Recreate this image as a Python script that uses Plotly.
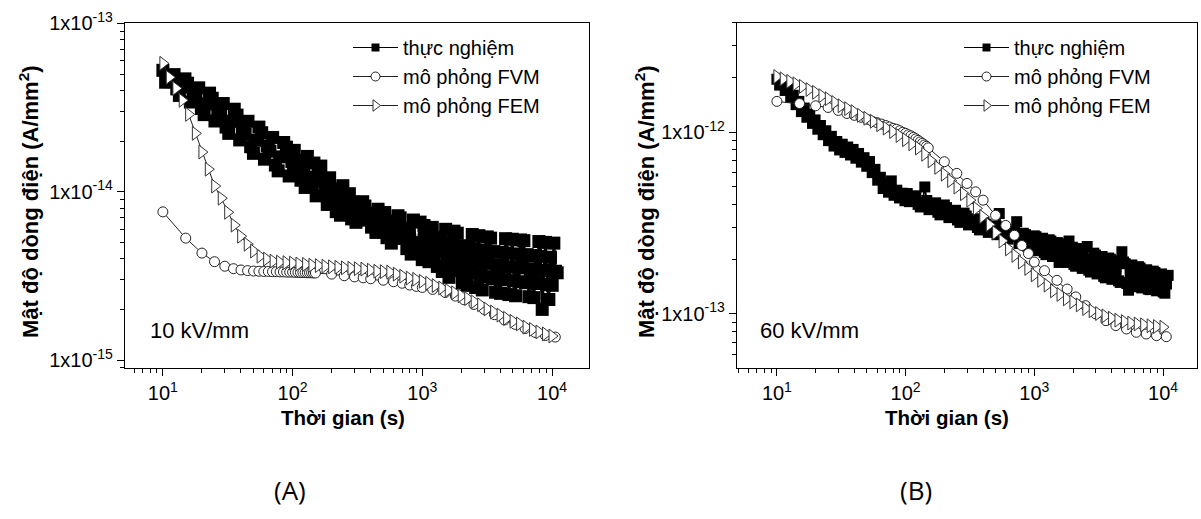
import plotly.graph_objects as go

# ---------------- data ----------------
# measurement times (s), shared by both experiments
time_exp = [10, 10.5, 11, 11.6, 12.2, 12.8, 13.4, 14.1, 14.8, 15.5, 16.3, 17.1, 18, 18.9, 19.8, 20.8, 21.8, 22.9, 24, 25.2,
            26.5, 27.8, 29.2, 30.7, 32.2, 33.8, 35.5, 37.3, 39.1, 41.1, 43.1, 45.3, 47.5, 49.9, 52.4, 55, 57.8, 60.7, 63.7, 66.9,
            70.2, 73.7, 77.4, 81.3, 85.4, 89.6, 94.1, 98.8,
            103, 107, 111, 116, 120, 125, 130, 135, 141, 146, 152, 158, 165, 171, 178, 185, 193, 200, 208, 217,
            225, 234, 244, 253, 264, 274, 285, 296, 308, 321, 333, 347, 361, 375, 390, 406, 422, 439, 456, 474,
            493, 513, 534, 555, 577, 600, 624, 649, 675, 702, 730, 760, 790, 821, 854, 888, 924, 961, 999,
            1030, 1061, 1093, 1126, 1159, 1194, 1230, 1267, 1305, 1344, 1384, 1426, 1469, 1513, 1558, 1605, 1653, 1702, 1754, 1806,
            1860, 1916, 1974, 2033, 2094, 2157, 2221, 2288, 2357, 2427, 2500, 2575, 2652, 2732, 2814, 2898, 2985, 3075, 3167, 3262,
            3360, 3461, 3564, 3671, 3781, 3895, 4012, 4132, 4256, 4384, 4515, 4651, 4790, 4934, 5082, 5234, 5391, 5553, 5720, 5891,
            6068, 6250, 6438, 6631, 6830, 7035, 7246, 7463, 7687, 7918, 8155, 8400, 8652, 8911, 9179, 9454, 9738, 10030, 10330, 10640,
            10960]

# (A) 10 kV/mm, experiment, in units of 1e-15 A/mm2
exp_A_e15 = [52.6, 44.7, 48.5, 45.0, 49.6, 40.8, 37.3, 41.8, 46.8, 44.1, 34.1, 38.8, 35.9, 41.4, 31.2, 28.7, 33.2, 38.5,
             35.9, 26.3, 30.7, 28.4, 33.4, 24.2, 22.2, 26.2, 30.9, 28.5, 20.3, 24.1, 22.0, 26.2, 18.5, 16.9, 20.2, 24.2,
             22.4, 15.6, 18.7, 17.4, 21.0, 14.4, 13.3, 16.1, 19.6, 18.4, 12.4, 15.1,
             17.6, 13.4, 15.4, 11.7, 14.1, 10.6, 16.2, 12.2, 11.0, 14.8, 9.45, 12.7, 14.2, 11.5, 9.84, 8.4,
             12.1, 8.9, 10.4, 7.61, 9.49, 7.25, 10.86, 8.3, 7.74, 9.73, 6.9, 8.68, 6.58, 7.94, 7.23, 8.72,
             8.22, 6.78, 7.47, 6.16, 7.08, 5.73, 7.87, 6.37, 5.98, 7.53, 5.33, 6.71, 4.95, 6.35, 5.61, 7.2,
             6.99, 5.28, 6.07, 4.59, 5.81, 4.26, 6.79, 4.98, 4.69, 6.6, 3.95,
             6.3, 4.35, 5.57, 3.84, 4.92, 6.14, 4.11, 5.37, 3.6, 4.70, 5.18, 3.36, 4.48, 5.98, 3.88,
             3.1, 4.98, 3.63, 5.83, 4.25, 5.67, 3.40, 4.78, 2.87, 4.03, 3.93, 2.78, 4.68, 3.31, 5.57,
             4.59, 2.7, 3.85, 5.48, 3.22, 2.61, 4.50, 3.13, 5.39, 3.75, 5.3, 3.04, 4.41, 2.53, 3.66,
             3.62, 2.49, 4.36, 3.0, 5.26, 4.32, 2.45, 3.58, 5.22, 2.96, 2.41, 4.27, 2.92, 5.17, 3.53,
             5.12, 2.88, 4.23, 2.38, 3.49, 3.45, 2.35, 4.18, 2.85, 5.06, 4.13, 2.0, 3.41, 5.0, 2.81,
             2.29, 4.08, 2.78, 4.95, 3.37, 3.3]

# (B) 60 kV/mm, experiment, in units of 1e-13 A/mm2
exp_B_e13 = [19.6, 18.2, 18.8, 17.0, 17.4, 15.6, 16.0, 14.2, 14.8, 13.0, 13.6, 12.1, 12.6, 11.2, 11.7, 10.4, 10.9, 9.7, 10.2, 9.0,
             9.5, 8.4, 8.9, 8.0, 8.6, 7.75, 8.3, 7.5, 8.05, 7.2, 7.65, 6.85, 7.25, 6.5, 6.9, 6.0, 6.25, 5.45, 5.65, 4.9,
             5.2, 4.68, 5.4, 4.5, 4.8, 4.35, 4.62, 4.2,
             4.6, 4.15, 4.37, 4.23, 4.47, 4.01, 3.88, 4.10, 5.0, 4.21, 3.75, 3.97, 3.85, 4.09, 3.63, 3.51, 3.74, 3.98,
             3.85, 3.39, 3.61, 3.50, 3.72, 3.29, 3.19, 3.38, 3.59, 3.46, 3.09, 3.27, 3.16, 3.34, 2.99, 2.90, 3.06, 3.22,
             3.12, 2.81, 2.96, 2.89, 3.05, 2.73, 3.57, 2.82, 2.98, 2.91, 2.58, 2.74, 2.67, 2.85, 3.22, 2.44, 2.60, 2.78,
             2.73, 2.36, 2.54, 2.48, 2.69,
             2.66, 2.23, 2.44, 2.39, 2.61, 2.18, 2.12, 2.33, 2.56, 2.52, 2.07, 2.28, 2.23, 2.47, 1.92, 1.97, 2.19, 2.43,
             2.38, 1.92, 2.52, 2.09, 2.33, 1.87, 1.83, 2.05, 2.29, 2.24, 1.78, 2.0, 1.96, 2.35, 1.74, 1.70, 1.92, 2.16,
             2.11, 1.66, 1.87, 1.83, 2.07, 1.61, 1.58, 1.79, 2.03, 2.0, 1.55, 1.76, 1.73, 1.96, 1.52, 1.49, 2.2, 1.93,
             1.89, 1.47, 1.35, 1.64, 1.86, 1.44, 1.41, 1.60, 1.82, 1.79, 1.39, 1.58, 1.55, 1.75, 1.37, 1.36, 1.53, 1.72,
             1.69, 1.34, 1.50, 1.48, 1.66, 1.32, 1.30, 1.46, 1.63]

# FEM simulation times (s)
time_fem = [10, 11.2, 12.6, 14.1, 15.8, 17.8, 20, 22.4, 25.1, 28.2, 31.6, 35.5, 39.8, 44.7, 50.1, 56.2, 63.1, 70.8, 79.4, 89.1,
            100, 112, 126, 141, 158, 178, 200, 224, 251, 282, 316, 355, 398, 447, 501, 562, 631, 708, 794, 891,
            1000, 1122, 1259, 1413, 1585, 1778, 1995, 2239, 2512, 2818, 3162, 3548, 3981, 4467, 5012, 5623, 6310, 7079, 7943, 8913,
            10000]
fem_A_e15 = [57.9, 47.8, 41.1, 34.9, 28.8, 22.2, 17.2, 13.6, 10.8, 9.15, 7.55, 6.33, 5.44, 4.88, 4.44, 4.14, 3.98, 3.87, 3.82, 3.79,
             3.77, 3.72, 3.70, 3.66, 3.64, 3.61, 3.58, 3.56, 3.53, 3.51, 3.49, 3.47, 3.42, 3.37, 3.35, 3.33, 3.24, 3.15, 3.07, 3.02,
             2.94, 2.86, 2.77, 2.68, 2.60, 2.51, 2.41, 2.32, 2.22, 2.13, 2.01, 1.93, 1.85, 1.77, 1.70, 1.64, 1.57, 1.52, 1.47, 1.43,
             1.39]
fem_B_e13 = [20.3, 19.7, 19.1, 18.5, 17.9, 17.2, 16.6, 15.9, 15.3, 14.6, 14.0, 13.5, 13.0, 12.4, 11.95, 11.5, 11.0, 10.55, 10.1, 9.60,
             9.10, 8.64, 8.19, 7.57, 6.96, 6.41, 5.88, 5.42, 4.99, 4.59, 4.23, 3.81, 3.44, 3.10, 2.80, 2.52, 2.28, 2.10, 1.93, 1.78,
             1.64, 1.53, 1.44, 1.34, 1.28, 1.21, 1.165, 1.12, 1.07, 1.04, 1.005, 0.975, 0.947, 0.924, 0.907, 0.89, 0.88, 0.87, 0.86, 0.852,
             0.845]

# FVM simulation times (s)
time_fvm = [10, 15, 20, 25, 30, 35, 40, 45, 50, 55, 60, 65, 70, 75, 80, 85, 90, 95, 100, 105, 110, 115, 120, 125, 130, 135, 140, 145, 150,
            200, 250, 300, 350, 400, 500, 600, 700, 800, 900, 1000, 1200, 1500, 1800, 2100, 2500, 3000, 3600, 4300, 5200, 6200, 7400, 8900, 10600]
fvm_A_e15 = [7.59, 5.30, 4.32, 3.84, 3.61, 3.49, 3.43, 3.40, 3.38, 3.37, 3.36, 3.36, 3.35, 3.35, 3.34, 3.34, 3.33, 3.33, 3.33, 3.32,
             3.32, 3.31, 3.31, 3.31, 3.30, 3.30, 3.30, 3.29, 3.29,
             3.24, 3.17, 3.12, 3.08, 3.04, 2.98, 2.92, 2.86, 2.79, 2.74, 2.70, 2.63, 2.52, 2.40, 2.28, 2.14, 2.00, 1.86, 1.73, 1.63, 1.54,
             1.46, 1.40, 1.37]
fvm_B_e13 = [14.8, 14.4, 14.0, 13.7, 13.2, 12.7, 12.4, 12.1, 11.8, 11.5, 11.3, 11.1, 10.9, 10.7, 10.5, 10.4, 10.2, 10.0, 9.87, 9.69,
             9.56, 9.38, 9.21, 9.03, 8.86, 8.69, 8.52, 8.37, 8.21,
             6.89, 5.94, 5.23, 4.70, 4.23, 3.49, 3.07, 2.71, 2.38, 2.15, 1.93, 1.73, 1.53, 1.37, 1.24, 1.11, 1.00, 0.918, 0.862, 0.826, 0.792,
             0.775, 0.759, 0.749]

series_names = ["thực nghiệm", "mô phỏng FVM", "mô phỏng FEM"]
x_tick_vals = [10, 100, 1000, 10000]
x_tick_text = ["10<sup>1</sup>", "10<sup>2</sup>", "10<sup>3</sup>", "10<sup>4</sup>"]
yA_tick_vals = [1e-15, 1e-14, 1e-13]
yA_tick_text = ["1x10<sup>-15</sup>", "1x10<sup>-14</sup>", "1x10<sup>-13</sup>"]
yB_tick_vals = [1e-13, 1e-12]
yB_tick_text = ["1x10<sup>-13</sup>", "1x10<sup>-12</sup>"]

# ---------------- figure ----------------
W, H = 1201, 519
FONT = "Arial, Liberation Sans, sans-serif"

fig = go.Figure()

exp_style = dict(symbol="square", color="black", line=dict(width=0))
fvm_style = dict(symbol="circle", size=10, color="white", line=dict(width=1, color="#222222"))
fem_style = dict(symbol="triangle-right", size=12, color="white", line=dict(width=1, color="#333333"))

panels = [
    dict(xa="x", ya="y", leg="legend", exp=exp_A_e15, fvm=fvm_A_e15, fem=fem_A_e15, unit=1e-15, sq=13, lw=2.8),
    dict(xa="x2", ya="y2", leg="legend2", exp=exp_B_e13, fvm=fvm_B_e13, fem=fem_B_e13, unit=1e-13, sq=11, lw=1.8),
]
for p in panels:
    u = p["unit"]
    fig.add_trace(go.Scatter(
        x=time_exp, y=[v * u for v in p["exp"]], mode="lines+markers", name=series_names[0],
        line=dict(color="black", width=p["lw"]), marker=dict(exp_style, size=p["sq"]),
        xaxis=p["xa"], yaxis=p["ya"], showlegend=False))
    fig.add_trace(go.Scatter(
        x=time_fvm, y=[v * u for v in p["fvm"]], mode="lines+markers", name=series_names[1],
        line=dict(color="#222222", width=1), marker=fvm_style,
        xaxis=p["xa"], yaxis=p["ya"], showlegend=False))
    fig.add_trace(go.Scatter(
        x=time_fem, y=[v * u for v in p["fem"]], mode="lines+markers", name=series_names[2],
        line=dict(color="#222222", width=1), marker=fem_style,
        xaxis=p["xa"], yaxis=p["ya"], showlegend=False))
    # legend entries (legend-only keys with smaller symbols, as in the original)
    for name, mk, lc in ((series_names[0], dict(exp_style, size=8), "black"),
                         (series_names[1], dict(fvm_style, size=9), "#222222"),
                         (series_names[2], dict(fem_style, size=10), "#222222")):
        fig.add_trace(go.Scatter(x=[None], y=[None], mode="lines+markers", name=name,
                                 line=dict(color=lc, width=1), marker=mk,
                                 xaxis=p["xa"], yaxis=p["ya"], legend=p["leg"], showlegend=True))

ydom = [1 - 368 / H, 1 - 23 / H]
axis_common = dict(
    type="log", showline=True, linecolor="black", linewidth=1.3, mirror=True,
    ticks="outside", ticklen=7, tickwidth=1.2, tickcolor="black",
    showgrid=False, zeroline=False, automargin=False,
    tickfont=dict(size=20, family=FONT, color="black"),
    minor=dict(ticks="outside", ticklen=4, tickwidth=1, tickcolor="black", showgrid=False, dtick="D1"),
)

fig.update_layout(
    width=W, height=H, autosize=False,
    margin=dict(l=0, r=0, t=0, b=0, autoexpand=False),
    paper_bgcolor="white", plot_bgcolor="white",
    font=dict(family=FONT, color="black"),
    xaxis=dict(axis_common, domain=[125 / W, 589 / W], range=[0.708, 4.285], anchor="y",
               tickmode="array", tickvals=x_tick_vals, ticktext=x_tick_text),
    yaxis=dict(axis_common, domain=ydom, range=[-15.047, -12.998], anchor="x",
               tickmode="array", tickvals=yA_tick_vals, ticktext=yA_tick_text),
    xaxis2=dict(axis_common, domain=[737 / W, 1197 / W], range=[0.69, 4.264], anchor="y2",
                tickmode="array", tickvals=x_tick_vals, ticktext=x_tick_text),
    yaxis2=dict(axis_common, domain=ydom, range=[-13.298, -11.398], anchor="x2",
                tickmode="array", tickvals=yB_tick_vals, ticktext=yB_tick_text),
    legend=dict(x=348 / W, y=1 - 28 / H, xanchor="left", yanchor="top",
                font=dict(size=20, family=FONT, color="black"), bgcolor="rgba(0,0,0,0)",
                borderwidth=0, tracegroupgap=0, itemwidth=45),
    legend2=dict(x=959 / W, y=1 - 28 / H, xanchor="left", yanchor="top",
                 font=dict(size=20, family=FONT, color="black"), bgcolor="rgba(0,0,0,0)",
                 borderwidth=0, tracegroupgap=0, itemwidth=45),
    showlegend=True,
)

ann = []
# field labels
ann.append(dict(text="10 kV/mm", x=148 / W, y=1 - 330 / H, xref="paper", yref="paper",
                xanchor="left", yanchor="middle", showarrow=False, font=dict(size=22, family=FONT)))
ann.append(dict(text="60 kV/mm", x=758 / W, y=1 - 330 / H, xref="paper", yref="paper",
                xanchor="left", yanchor="middle", showarrow=False, font=dict(size=22, family=FONT)))
# axis titles
for cx in (343, 947):
    ann.append(dict(text="<b>Thời gian (s)</b>", x=cx / W, y=1 - 417 / H, xref="paper", yref="paper",
                    xanchor="center", yanchor="middle", showarrow=False, font=dict(size=20.5, family=FONT)))
for cx in (29, 645):
    ann.append(dict(text="<b>Mật độ dòng điện (A/mm<sup>2</sup>)</b>", x=cx / W, y=1 - 202 / H,
                    xref="paper", yref="paper", xanchor="center", yanchor="middle", textangle=-90,
                    showarrow=False, font=dict(size=22, family=FONT)))
# panel labels
ann.append(dict(text="(A)", x=290 / W, y=1 - 490 / H, xref="paper", yref="paper",
                xanchor="center", yanchor="middle", showarrow=False, font=dict(size=26, family="Open Sans, Liberation Sans")))
ann.append(dict(text="(B)", x=916 / W, y=1 - 490 / H, xref="paper", yref="paper",
                xanchor="center", yanchor="middle", showarrow=False, font=dict(size=26, family="Open Sans, Liberation Sans")))
fig.update_layout(annotations=ann)

fig.write_html("out.html", config={"displayModeBar": False},
               post_script="document.body.style.margin='0px';document.body.style.overflow='hidden';")
